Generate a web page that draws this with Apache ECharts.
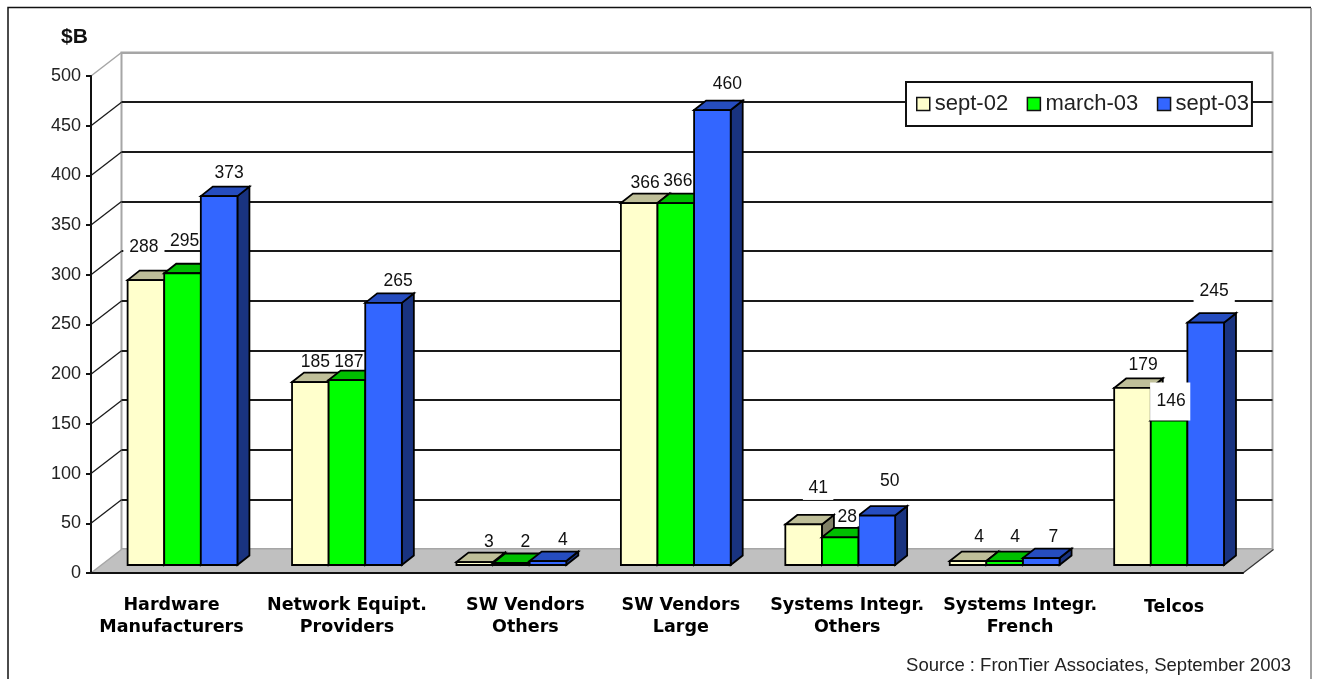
<!DOCTYPE html>
<html>
<head>
<meta charset="utf-8">
<style>html,body{margin:0;padding:0;background:#fff}#chart{width:1317px;height:679px}</style>
<script src="https://cdn.jsdelivr.net/npm/echarts@6/dist/echarts.min.js"></script>
</head>
<body>
<div id="chart"></div>
<script>
// Market value by vendor segment, $B
const categories = [
  'Hardware\nManufacturers', 'Network Equipt.\nProviders', 'SW Vendors\nOthers',
  'SW Vendors\nLarge', 'Systems Integr.\nOthers', 'Systems Integr.\nFrench', 'Telcos'
];
const sept02 = [288, 185, 3, 366, 41, 4, 179];
const march03 = [295, 187, 2, 366, 28, 4, 146];
const sept03 = [373, 265, 4, 460, 50, 7, 245];
const axisTicks = [0, 50, 100, 150, 200, 250, 300, 350, 400, 450, 500];
const seriesNames = ['sept-02', 'march-03', 'sept-03'];

// Fill colours per series: front face, top face, side face
const faces = [
  ['#FFFFCC', '#BFBF99', '#808066'],
  ['#00FF00', '#00BF00', '#008000'],
  ['#3366FF', '#264DBF', '#193380']
];

// Hand placement of the value labels, px from the top centre of each bar's front face
const labelNudge = [
  [[-2, -33], [5, -20], [14, -20], [6, -20], [14.5, -36.5], [11, -24], [10.7, -23]],
  [[2, -32], [2, -18], [14, -21], [2, -22], [7, -20], [10.5, -24], [1.1, -19.1]],
  [[10, -23], [14.5, -22], [15, -21], [15, -26], [13, -34], [12, -21], [8.5, -31.7]]
];
// White label boxes that knock out what lies behind them: top, right, bottom, left padding
const labelMask = [
  [[2, 6, 2, 6], null, null, null, [2, 5.5, 4, 5.5], null, null],
  [null, null, null, null, [0, 2, 0, 2], null, [7.5, 4.5, 12.5, 6.5]],
  [null, null, null, null, null, null, [2, 6, 6, 6]]
];
// Category label shifts: horizontal px, extra top px
const categoryShift = [[-11, 0], [0, 0], [14, 0], [5, 0], [7, 0], [15.5, 0], [5, 2]];

const LINE = '#1a1a1a';
const WALL = '#a6a6a6';
const SANS = '"Liberation Sans", Arial, sans-serif';
const WALL_DX = 30.5, WALL_DY = -23.5;   // front plane to back wall
const BAR_DX = 12, BAR_DY = -9.5;        // depth of a bar
const BAR_RATIO = 0.2226;                // bar width over category band

function polygon(points, fill) {
  return { type: 'polygon', shape: { points }, style: { fill, stroke: '#000', lineWidth: 1.8 } };
}

function barSeries(name, values, index) {
  const [front, top, side] = faces[index];
  return {
    name, type: 'custom', xAxisIndex: 2, yAxisIndex: 2, z: 3, silent: true,
    itemStyle: { color: front },
    data: values.map((v, i) => [i, v]),
    renderItem(params, api) {
      const base = api.coord([api.value(0), 0]);
      const head = api.coord([api.value(0), api.value(1)]);
      const w = api.size([1, 0])[0] * BAR_RATIO;
      const x0 = base[0] + (index - 1.5) * w, x1 = x0 + w;
      const y0 = base[1], y1 = head[1];
      return {
        type: 'group',
        children: [
          polygon([[x1, y0], [x1 + BAR_DX, y0 + BAR_DY], [x1 + BAR_DX, y1 + BAR_DY], [x1, y1]], side),
          polygon([[x0, y1], [x0 + BAR_DX, y1 + BAR_DY], [x1 + BAR_DX, y1 + BAR_DY], [x1, y1]], top),
          polygon([[x0, y0], [x1, y0], [x1, y1], [x0, y1]], front)
        ]
      };
    }
  };
}

function labelSeries(values, index) {
  return {
    type: 'custom', xAxisIndex: 2, yAxisIndex: 2, z: 6, silent: true,
    data: values.map((v, i) => [i, v]),
    renderItem(params, api) {
      const i = api.value(0), v = api.value(1);
      const p = api.coord([i, v]);
      const w = api.size([1, 0])[0] * BAR_RATIO;
      const nudge = labelNudge[index][i], mask = labelMask[index][i];
      const style = {
        text: String(v), x: p[0] + (index - 1) * w + nudge[0], y: p[1] + nudge[1],
        align: 'center', verticalAlign: 'middle', fill: '#111', font: '17.5px ' + SANS
      };
      if (mask) { style.backgroundColor = '#fff'; style.padding = mask; }
      return { type: 'text', style };
    }
  };
}

// Grey floor between the front plane and the back wall
const floorSeries = {
  type: 'custom', xAxisIndex: 0, yAxisIndex: 0, z: 1, silent: true,
  data: [[0, 0]],
  renderItem(params, api) {
    const a = api.coord([0, 0]), b = api.coord([1, 0]);
    return {
      type: 'group',
      children: [
        { type: 'polygon',
          shape: { points: [a, b, [b[0] + WALL_DX, b[1] + WALL_DY], [a[0] + WALL_DX, a[1] + WALL_DY]] },
          style: { fill: '#C0C0C0' } },
        { type: 'line',
          shape: { x1: b[0], y1: b[1], x2: b[0] + WALL_DX, y2: b[1] + WALL_DY },
          style: { stroke: '#333', lineWidth: 1.2 } }
      ]
    };
  }
};

// Oblique strokes joining each tick on the axis to its gridline on the wall
const connectorSeries = {
  type: 'custom', xAxisIndex: 0, yAxisIndex: 0, z: 2, silent: true,
  data: axisTicks.map(t => [0, t]),
  renderItem(params, api) {
    const t = api.value(1);
    const p = api.coord([0, t]);
    return {
      type: 'line',
      shape: { x1: p[0], y1: p[1], x2: p[0] + WALL_DX, y2: p[1] + WALL_DY },
      style: { stroke: t === 0 || t === 500 ? WALL : LINE, lineWidth: t === 0 || t === 500 ? 1.5 : 1.3 }
    };
  }
};

const wallLineColors = axisTicks.map(t => (t === 0 || t === 500 ? WALL : LINE));

const chart = echarts.init(document.getElementById('chart'), null, { renderer: 'canvas' });
chart.setOption({
  animation: false,
  backgroundColor: '#fff',
  title: [
    { text: '$B', left: 56, top: 22, textStyle: { fontFamily: SANS, fontWeight: 'bold', fontSize: 21, color: '#111' } },
    { text: 'Source : FronTier Associates, September 2003', right: 21, top: 651,
      textStyle: { fontFamily: SANS, fontWeight: 'normal', fontSize: 18.5, color: '#222' } }
  ],
  graphic: [
    { type: 'polyline', shape: { points: [[8, 679], [8, 7.5], [1311, 7.5]] }, style: { stroke: '#111', lineWidth: 1.5, fill: null } },
    { type: 'line', shape: { x1: 1311, y1: 8, x2: 1311, y2: 679 }, style: { stroke: '#808080', lineWidth: 1.5 } }
  ],
  legend: {
    left: 906, top: 82, orient: 'horizontal', icon: 'rect',
    backgroundColor: '#fff', borderColor: '#111', borderWidth: 2,
    padding: [11, 3, 11, 10], itemGap: 18.5, itemWidth: 13, itemHeight: 13,
    itemStyle: { borderColor: '#111', borderWidth: 1.5 },
    textStyle: { fontFamily: SANS, fontSize: 22, color: '#222' },
    data: seriesNames
  },
  grid: [
    { left: 91, top: 76, width: 1152, height: 497 },
    { left: 121.5, top: 52.5, width: 1151, height: 496.5, show: true, borderColor: WALL, borderWidth: 2, backgroundColor: 'transparent' },
    { left: 100.3, top: 70.5, width: 1151, height: 494.5 }
  ],
  xAxis: [
    { gridIndex: 0, type: 'value', min: 0, max: 1, z: 4, splitLine: { show: false }, axisTick: { show: false }, axisLabel: { show: false },
      axisLine: { show: true, lineStyle: { color: '#111', width: 2 } } },
    { gridIndex: 1, type: 'value', min: 0, max: 1, show: false },
    { gridIndex: 2, type: 'category', data: categories.map((c, i) => {
        const [dx, dy] = categoryShift[i];
        return { value: c, textStyle: { padding: [dy, dx < 0 ? -2 * dx : 0, 0, dx > 0 ? 2 * dx : 0] } };
      }),
      axisLine: { show: false }, axisTick: { show: false },
      axisLabel: { interval: 0, margin: 30, lineHeight: 21.5, fontFamily: '"DejaVu Sans", sans-serif', fontWeight: 'bold', fontSize: 17.5, color: '#000', hideOverlap: false } }
  ],
  yAxis: [
    { gridIndex: 0, type: 'value', min: 0, max: 500, interval: 50, z: 4, splitLine: { show: false },
      axisLine: { show: true, lineStyle: { color: '#111', width: 2 } },
      axisTick: { show: true, length: 5, lineStyle: { color: '#111', width: 2 } },
      axisLabel: { margin: 10, fontFamily: SANS, fontSize: 18, color: '#222' } },
    { gridIndex: 1, type: 'value', min: 0, max: 500, interval: 50,
      axisLine: { show: false }, axisTick: { show: false }, axisLabel: { show: false },
      splitLine: { show: true, lineStyle: { color: wallLineColors, width: 2 } } },
    { gridIndex: 2, type: 'value', min: 0, max: 500, show: false }
  ],
  series: [
    floorSeries, connectorSeries,
    barSeries(seriesNames[0], sept02, 0),
    barSeries(seriesNames[1], march03, 1),
    barSeries(seriesNames[2], sept03, 2),
    labelSeries(sept02, 0), labelSeries(march03, 1), labelSeries(sept03, 2)
  ]
});
</script>
</body>
</html>
